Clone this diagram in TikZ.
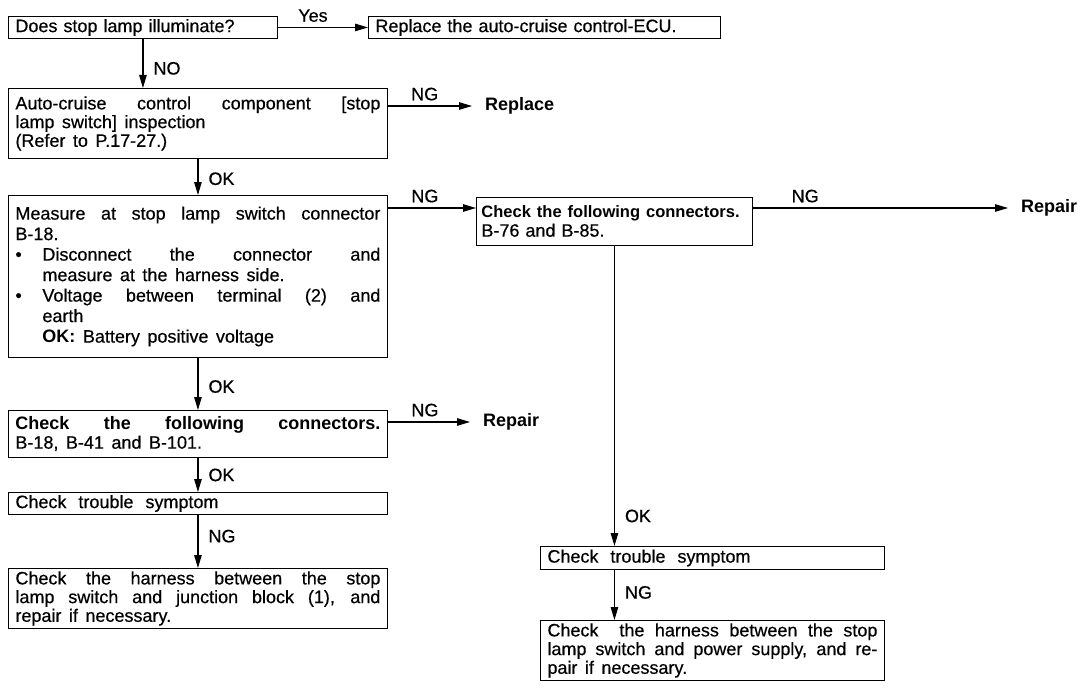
\documentclass[tikz,border=0pt]{standalone}
\usepackage{fontspec}
\setmainfont{Liberation Sans}[WordSpace=1.5,UprightFeatures={FakeBold=0.5}]
\usetikzlibrary{arrows.meta,calc}

\begin{document}
\begin{tikzpicture}[x=1pt,y=-1pt,
  txt/.style={font=\fontsize{18}{18.7}\selectfont},
  box/.style={txt,draw,line width=0.9pt,anchor=north west,inner xsep=7pt,
    inner ysep=0pt,align=justify},
  endtxt/.style={txt,font=\fontsize{18}{18.7}\selectfont\bfseries,anchor=west,inner xsep=13pt,inner ysep=0pt},
  conn/.style={line width=1.1pt,-{Triangle[length=13pt,width=7.5pt]}},
  vlab/.style={txt,inner sep=0pt,anchor=west,xshift=10pt},
  hlab/.style={txt,inner sep=0pt,anchor=south west,yshift=5pt},
]
\useasboundingbox (0,0) rectangle (1085,693);

% decision and action boxes
\node[box,minimum width=269pt,minimum height=22pt,text width=255pt,align=left] (b1) at (8,16)
  {Does stop lamp illuminate?};
\node[box,minimum width=352pt,minimum height=22pt,text width=338pt,align=left] (b2) at (368,16)
  {Replace the auto-cruise control-ECU.};
\node[box,minimum width=379pt,minimum height=70pt,text width=365pt] (b3) at (8,88)
  {Auto-cruise control component [stop\linebreak lamp switch] inspection\\(Refer to P.17-27.)};
\node[box,minimum width=379pt,minimum height=162pt,text width=365pt] (b4) at (8,195)
  {\parbox{365pt}{\fontsize{18}{20.5}\selectfont
   \noindent Measure at stop lamp switch connector\linebreak B-18.\par
   \hangindent=27pt\hangafter=1\noindent\makebox[27pt][l]{\textbullet}Disconnect the connector and\linebreak measure at the harness side.\par
   \hangindent=27pt\hangafter=1\noindent\makebox[27pt][l]{\textbullet}Voltage between terminal (2) and\linebreak earth\par
   \leftskip=27pt\noindent\textbf{OK:} Battery positive voltage\par}};
\node[box,minimum width=276pt,minimum height=48pt,inner xsep=5pt,text width=266pt,align=left] (b5) at (476,197)
  {{\fontsize{16.5}{18.7}\selectfont\textbf{Check the following connectors.}}\\B-76 and B-85.};
\node[box,minimum width=379pt,minimum height=47pt,text width=365pt] (b6) at (8,410)
  {\textbf{Check the following connectors.}\linebreak B-18, B-41 and B-101.};
\node[box,minimum width=379pt,minimum height=22pt,text width=365pt,align=left] (b7) at (8,492)
  {Check\ \ trouble\ \ symptom};
\node[box,minimum width=379pt,minimum height=60pt,text width=365pt] (b8) at (8,568)
  {Check the harness between the stop\linebreak lamp switch and junction block (1), and\linebreak repair if necessary.};
\node[box,minimum width=344pt,minimum height=23pt,text width=330pt,align=left] (b9) at (540,546)
  {Check\ \ trouble\ \ symptom};
\node[box,minimum width=344pt,minimum height=60pt,text width=330pt] (b10) at (540,620)
  {Check\ \ the harness between the stop\linebreak lamp switch and power supply, and re-\linebreak pair if necessary.};

% end actions
\node[endtxt] (rep1) at (472,106) {Replace};
\node[endtxt] (rep2) at (1008,208) {Repair};
\node[endtxt] (rep3) at (470,422) {Repair};

% rows of the horizontal connectors
\coordinate (r1) at (0,106);
\coordinate (r2) at (0,208);
\coordinate (r3) at (0,422);

% connectors
\draw[conn] (b1.east) -- node[hlab,pos=0.22] {Yes} (b2.west);
\draw[conn] (b1.south) -- node[vlab,pos=0.6] {NO} (b1.south |- b3.north);
\draw[conn] (b3.east |- r1) -- node[hlab,pos=0.27] {NG} (rep1.west);
\draw[conn] (b3.south) -- node[vlab,pos=0.55] {OK} (b4.north);
\draw[conn] (b4.east |- r2) -- node[hlab,pos=0.26] {NG} (b5.west |- r2);
\draw[conn] (b5.east |- r2) -- node[hlab,pos=0.15] {NG} (rep2.west);
\draw[conn] (b5.south) -- node[vlab,pos=0.9] {OK} (b5.south |- b9.north);
\draw[conn] (b5.south |- b9.south) -- node[vlab,pos=0.45] {NG} (b5.south |- b10.north);
\draw[conn] (b4.south) -- node[vlab,pos=0.55] {OK} (b6.north);
\draw[conn] (b6.east |- r3) -- node[hlab,pos=0.28] {NG} (rep3.west);
\draw[conn] (b6.south) -- node[vlab,pos=0.5] {OK} (b7.north);
\draw[conn] (b7.south) -- node[vlab,pos=0.4] {NG} (b8.north);
\end{tikzpicture}
\end{document}
